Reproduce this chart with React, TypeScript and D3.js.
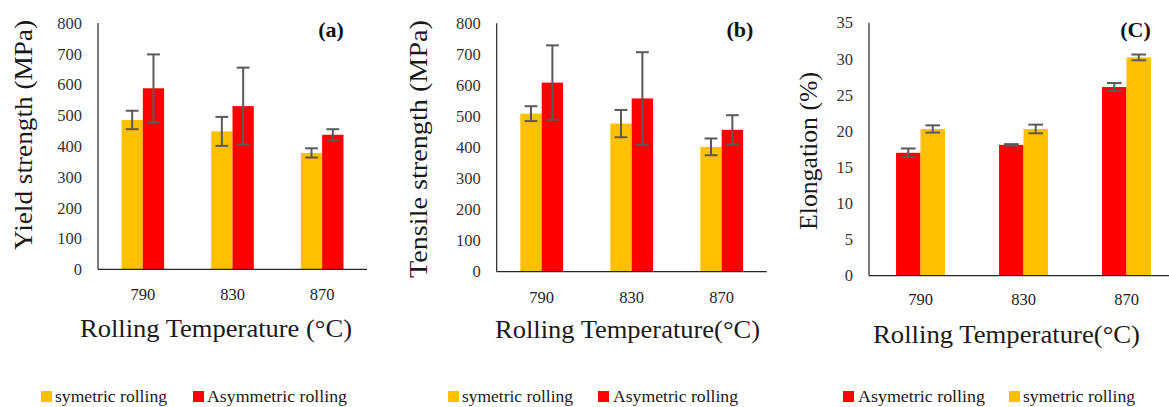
import React from 'react';
import * as d3 from 'd3';

// rolling temperatures (°C)
const categories = ['790', '830', '870'];

// (a) yield strength, MPa
const yieldSym = [485, 448, 378];
const yieldSymErr = [30, 47, 15];
const yieldAsym = [588, 530, 437];
const yieldAsymErr = [110, 125, 18];

// (b) tensile strength, MPa
const tensileSym = [509, 477, 402];
const tensileSymErr = [24, 44, 27];
const tensileAsym = [609, 558, 457];
const tensileAsymErr = [120, 149, 47];

// (c) elongation, %
const elongAsym = [17.0, 18.1, 26.1];
const elongAsymErr = [0.6, 0.1, 0.55];
const elongSym = [20.3, 20.3, 30.2];
const elongSymErr = [0.5, 0.6, 0.4];

const YELLOW = '#FFC000';
const RED = '#FF0000';
const ERR = '#595959';
const FONT = "'Liberation Serif', 'Times New Roman', serif";

type Series = { name: string; color: string; values: number[]; errors: number[] };

type PanelProps = {
  x0: number; x1: number; yTop: number; yBase: number;
  max: number; step: number;
  series: Series[];
  yTitle: string; yTitleX: number; yTitleY: number; yTitleLen: number;
  xTitle: string; xTitleX: number; xTitleY: number; xTitleLen: number;
  tag: string; tagX: number;
  tickDy: number;
  legend: { sq: number; tx: number; len: number }[];
};

const txt = { fontFamily: FONT };

const Panel = (p: PanelProps) => {
  const x = d3.scaleBand<string>()
    .domain(categories)
    .range([p.x0, p.x1])
    .paddingInner(0.525)
    .paddingOuter(0.2625);
  const inner = d3.scaleBand<string>()
    .domain(p.series.map(s => s.name))
    .range([0, x.bandwidth()]);
  const y = d3.scaleLinear().domain([0, p.max]).range([p.yBase, p.yTop]);
  const ticks = d3.range(0, p.max + p.step / 2, p.step);
  const cap = inner.bandwidth() * 0.3;

  return (
    <g>
      {/* y tick labels */}
      {ticks.map(t => (
        <text key={t} x={p.x0 - 16} y={y(t)} dy="0.35em" textAnchor="end" style={txt}
          fontSize={16.5} fill="#333">{t}</text>
      ))}
      {/* bars */}
      {p.series.map(s => (
        <g key={s.name}>
          {categories.map((c, i) => (
            <rect key={c} x={x(c)! + inner(s.name)!} y={y(s.values[i])}
              width={inner.bandwidth()} height={p.yBase - y(s.values[i])} fill={s.color} />
          ))}
        </g>
      ))}
      {/* error bars */}
      {p.series.map(s => (
        <g key={s.name + 'e'} stroke={ERR} strokeWidth={2}>
          {categories.map((c, i) => {
            const cx = x(c)! + inner(s.name)! + inner.bandwidth() / 2;
            const hi = y(s.values[i] + s.errors[i]);
            const lo = y(s.values[i] - s.errors[i]);
            return (
              <g key={c}>
                <line x1={cx} x2={cx} y1={hi} y2={lo} />
                <line x1={cx - cap} x2={cx + cap} y1={hi} y2={hi} />
                <line x1={cx - cap} x2={cx + cap} y1={lo} y2={lo} />
              </g>
            );
          })}
        </g>
      ))}
      {/* axes */}
      <line x1={p.x0} x2={p.x0} y1={p.yTop} y2={p.yBase} stroke="#262626" strokeWidth={1.2} />
      <line x1={p.x0} x2={p.x1} y1={p.yBase} y2={p.yBase} stroke="#262626" strokeWidth={1.2} />
      {categories.map(c => (
        <text key={c} x={x(c)! + x.bandwidth() / 2} y={p.yBase + p.tickDy} textAnchor="middle" style={txt}
          fontSize={16.5} fill="#222">{c}</text>
      ))}
      <text transform={`translate(${p.yTitleX},${p.yTitleY}) rotate(-90)`} textAnchor="middle" style={txt}
        fontSize={25} fill="#1a1a1a" textLength={p.yTitleLen} lengthAdjust="spacingAndGlyphs">{p.yTitle}</text>
      <text x={p.xTitleX} y={p.xTitleY} textAnchor="middle" fontSize={25} fill="#1a1a1a" style={txt}
        textLength={p.xTitleLen} lengthAdjust="spacingAndGlyphs">{p.xTitle}</text>
      <text x={p.tagX} y={p.yTop + 14} textAnchor="middle" fontSize={22} fontWeight="bold" fill="#111"
        style={txt}>{p.tag}</text>
      {/* legend */}
      {p.series.map((s, i) => (
        <g key={s.name + 'l'}>
          <rect x={p.legend[i].sq} y={391} width={11} height={11} fill={s.color} />
          <text x={p.legend[i].tx} y={402} fontSize={17.5} fill="#1a1a1a" style={txt}
            textLength={p.legend[i].len} lengthAdjust="spacingAndGlyphs">{s.name}</text>
        </g>
      ))}
    </g>
  );
};

export default function App() {
  return (
    <svg width={1169} height={407} style={{ position: 'absolute', left: 0, top: 0, background: '#fff' }}>
      <Panel x0={98} x1={367} yTop={23} yBase={269.3} max={800} step={100}
        series={[
          { name: 'symetric rolling', color: YELLOW, values: yieldSym, errors: yieldSymErr },
          { name: 'Asymmetric rolling', color: RED, values: yieldAsym, errors: yieldAsymErr },
        ]}
        yTitle="Yield strength (MPa)" yTitleX={32} yTitleY={135} yTitleLen={230}
        xTitle="Rolling Temperature (°C)" xTitleX={216} xTitleY={337} xTitleLen={272}
        tag="(a)" tagX={331} tickDy={31}
        legend={[{ sq: 41, tx: 55, len: 112 }, { sq: 193, tx: 207, len: 140 }]} />
      <Panel x0={496.7} x1={766.7} yTop={23.3} yBase={271.7} max={800} step={100}
        series={[
          { name: 'symetric rolling', color: YELLOW, values: tensileSym, errors: tensileSymErr },
          { name: 'Asymetric rolling', color: RED, values: tensileAsym, errors: tensileAsymErr },
        ]}
        yTitle="Tensile strength (MPa)" yTitleX={427} yTitleY={149} yTitleLen={258}
        xTitle="Rolling Temperature(°C)" xTitleX={627.5} xTitleY={338} xTitleLen={265}
        tag="(b)" tagX={740} tickDy={31}
        legend={[{ sq: 448, tx: 462, len: 111 }, { sq: 598, tx: 613, len: 125 }]} />
      <Panel x0={869} x1={1178} yTop={22.7} yBase={275.7} max={35} step={5}
        series={[
          { name: 'Asymetric rolling', color: RED, values: elongAsym, errors: elongAsymErr },
          { name: 'symetric rolling', color: YELLOW, values: elongSym, errors: elongSymErr },
        ]}
        yTitle="Elongation (%)" yTitleX={817} yTitleY={151} yTitleLen={158}
        xTitle="Rolling Temperature(°C)" xTitleX={1006.5} xTitleY={343} xTitleLen={267}
        tag="(C)" tagX={1135.5} tickDy={29}
        legend={[{ sq: 843, tx: 858, len: 127 }, { sq: 1009, tx: 1023, len: 112 }]} />
    </svg>
  );
}
